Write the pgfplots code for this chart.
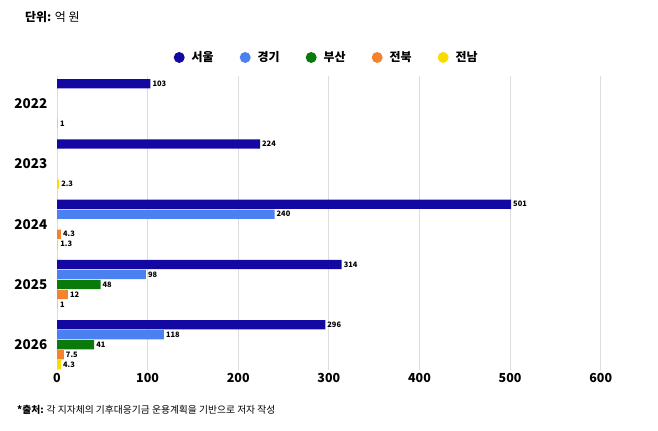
\documentclass[border=0pt]{standalone}
\usepackage{fontspec}
\setmainfont{Noto Sans CJK KR}
\usepackage{pgfplots}
\pgfplotsset{compat=1.18}

\definecolor{seoul}{HTML}{1408A3}
\definecolor{gyeonggi}{HTML}{4A80F0}
\definecolor{busan}{HTML}{0A7A0A}
\definecolor{jeonbuk}{HTML}{F5822D}
\definecolor{jeonnam}{HTML}{FADC00}
\definecolor{gridgray}{HTML}{DDDDDD}

\begin{document}
\begin{tikzpicture}
\path[use as bounding box] (0bp,0bp) rectangle (658bp,-431bp);
\node[anchor=west, inner sep=0] at (25bp,-17bp) {\fontsize{12}{14}\selectfont\textbf{단위:} 억 원};
\node[anchor=west, inner sep=0] at (17bp,-410bp) {\fontsize{9.8}{12}\selectfont\textbf{*출처:} 각 지자체의 기후대응기금 운용계획을 기반으로 저자 작성};
\begin{axis}[
    at={(57bp,-370bp)}, anchor=south west,
    scale only axis,
    width=580bp, height=294bp,
    xmin=0, xmax=640,
    ymin=-0.42, ymax=4.46,
    xbar=0.6bp, bar width=9.4bp,
    ytick={0,1,2,3,4},
    yticklabels={2026,2025,2024,2023,2022},
    xtick={0,100,200,300,400,500,600},
    /pgf/number format/assume math mode=true,
    xmajorgrids=true,
    grid style={gridgray, line width=0.9bp},
    axis line style={draw=none},
    tick style={draw=none},
    yticklabel style={font=\fontsize{13.5}{16}\selectfont\bfseries, xshift=-2bp},
    xticklabel style={font=\fontsize{12.5}{15}\selectfont\bfseries},
    nodes near coords,
    nodes near coords style={font=\fontsize{7.5}{8}\selectfont\bfseries, text=black, anchor=west, inner sep=2bp},
    legend columns=5,
    reverse legend,
    legend style={at={(0.465,1.063)}, anchor=center, draw=none, fill=none,
        font=\fontsize{12}{14}\selectfont\bfseries,
        /tikz/every even column/.append style={column sep=24bp}},
    legend image code/.code={\fill[#1, draw=none] (0bp,0bp) circle (5.5bp); \path (10.5bp,0bp);},
]
% plotted bottom-up so that 서울 sits on top of each group
\addplot[fill=jeonnam, draw=none] coordinates {(1,4) (2.3,3) (1.3,2) (1,1) (4.3,0)};
\addplot[fill=jeonbuk, draw=none] coordinates {(4.3,2) (12,1) (7.5,0)};
\addplot[fill=busan, draw=none] coordinates {(48,1) (41,0)};
\addplot[fill=gyeonggi, draw=none] coordinates {(240,2) (98,1) (118,0)};
\addplot[fill=seoul, draw=none] coordinates {(103,4) (224,3) (501,2) (314,1) (296,0)};
\legend{전남, 전북, 부산, 경기, 서울}
\end{axis}
\end{tikzpicture}
\end{document}
